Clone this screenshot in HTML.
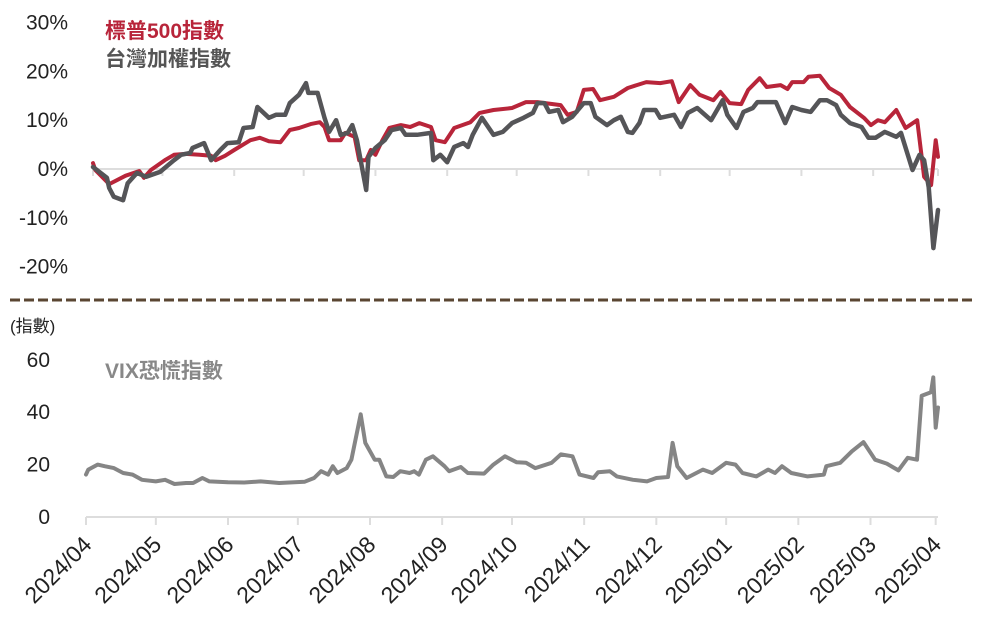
<!DOCTYPE html>
<html><head><meta charset="utf-8"><style>
body{margin:0;background:#fff}
svg{display:block;font-family:"Liberation Sans","Noto Sans CJK TC",sans-serif}
</style></head><body>
<svg id="c" width="985" height="628"></svg>
<script>
// Top panel data: days since 2024/04/01, % return
const spDays=[0,1,7,14,20,22,25,31,35,40,46,51,53,57,61,68,72,76,81,85,89,94,98,100,102,107,109,113,115,118,120,122,125,128,133,137,141,146,148,152,156,163,167,173,181,187,192,202,205,209,212,216,219,225,231,239,245,250,253,258,262,268,271,275,280,283,288,291,297,300,302,307,309,314,318,323,327,333,336,339,342,347,351,356,359,362,364,365];
const spVals=[1.2,-0.2,-3.1,-1.4,-0.4,-1.8,-0.2,1.8,2.9,3.1,2.9,2.7,1.8,2.7,3.9,5.9,6.4,5.7,5.5,8.0,8.4,9.2,9.6,8.6,5.9,5.9,7.4,6.6,1.8,1.8,3.9,2.9,5.9,8.4,9.0,8.6,9.4,8.6,5.9,5.5,8.4,9.6,11.5,12.1,12.5,13.7,13.7,13.1,11.1,11.7,16.2,16.4,14.1,14.8,16.6,17.8,17.6,18.0,13.7,17.2,15.2,14.1,15.8,13.5,13.3,16.2,18.6,16.8,17.2,16.4,17.8,17.8,18.9,19.1,16.6,15.2,12.7,10.5,9.0,10.0,9.6,12.1,8.4,10.0,-1.6,-3.3,5.9,2.5];
const twDays=[0,6,7,9,13,15,19,23,29,35,38,42,43,48,51,55,58,63,65,69,71,76,79,83,85,89,92,93,97,100,102,105,107,110,112,114,118,119,122,126,129,133,135,140,146,147,150,153,156,160,162,164,168,173,177,181,186,190,192,195,197,201,203,207,212,215,217,222,225,228,231,233,236,238,243,245,251,254,257,261,267,272,274,278,281,285,287,295,299,302,306,310,314,317,321,323,327,332,335,338,342,347,349,354,357,359,361,363,365];
const twVals=[0.4,-1.8,-3.9,-5.7,-6.4,-2.9,-0.8,-1.6,-0.6,1.8,2.9,3.3,4.3,5.3,1.8,3.9,5.3,5.5,8.4,8.6,12.7,10.5,11.1,11.1,13.5,15.2,17.6,15.6,15.6,10.5,7.6,10.0,7.0,7.4,9.0,5.9,-4.3,2.5,4.3,5.9,8.0,8.4,7.0,7.0,7.4,1.8,2.9,1.4,4.5,5.3,4.5,7.0,10.5,7.0,7.6,9.4,10.5,11.5,13.5,13.5,11.7,12.1,9.6,10.7,13.5,13.5,10.7,9.0,10.0,10.7,7.6,7.4,9.4,12.1,12.1,10.5,11.1,8.6,11.5,12.5,10.0,14.1,11.1,8.4,11.7,12.5,13.7,13.7,9.4,12.7,12.1,11.7,14.1,14.1,13.1,11.1,9.4,8.6,6.4,6.4,7.6,6.6,7.4,-0.2,2.9,1.8,-3.7,-16.2,-8.4];
const topTicks=["30%","20%","10%","0%","-10%","-20%"];
const topTickVals=[30,20,10,0,-10,-20];
// VIX data
const vixDays=[0,1,5,8,12,16,20,24,30,34,38,43,46,50,53,61,68,75,83,94,98,101,104,106,108,112,114,118,120,124,126,129,132,135,139,141,143,146,149,154,156,161,164,171,175,180,185,189,193,200,204,209,212,218,220,225,228,235,241,245,250,252,254,258,265,269,275,279,282,288,293,296,299,303,310,317,318,324,329,334,339,344,349,353,357,359,363,364,365,366];
const vixVals=[15.8,17.7,19.6,19,18.3,16.4,15.8,13.8,13.2,13.8,12.2,12.6,12.6,14.5,13.2,12.9,12.8,13.2,12.6,13.1,14.5,17.1,15.8,19,16.4,18.3,21.5,38.8,27.9,21.5,21.5,15.1,14.9,17.1,16.4,17.1,15.8,21.5,22.8,19,17.1,18.7,16.4,16.2,19.6,22.8,20.5,20.3,18.3,20.3,23.5,22.8,15.8,14.5,16.7,17.1,15.1,13.8,13.2,14.5,14.9,27.9,19,14.5,17.7,16.4,20.3,19.6,16.4,15.1,17.7,16.4,19,16.4,15.1,15.8,19,20.3,24.7,28.2,21.5,20,17.4,22.2,21.5,45.9,47.2,52.9,33.7,41.4];
const vixTicks=["60","40","20","0"];
const vixTickVals=[60,40,20,0];
const monthLabels=["2024/04","2024/05","2024/06","2024/07","2024/08","2024/09","2024/10","2024/11","2024/12","2025/01","2025/02","2025/03","2025/04"];
const monthDays=[0,30,61,91,122,153,183,214,245,275,306,337,365];

const NS="http://www.w3.org/2000/svg";
const svg=document.getElementById('c');
function mk(tag,attrs,name,parent){const e=document.createElementNS(NS,tag);for(const k in attrs)e.setAttribute(k,attrs[k]);


(parent||svg).appendChild(e);return e;}
const xTop=d=>93+d*(845/365);
const yTop=v=>169-v*4.88;
const xBot=d=>86+d*(852/366);
const yBot=v=>516-v*2.62;

mk('line',{x1:93,x2:938,y1:169,y2:169,stroke:'#ddd','stroke-width':2},'top-zero-line');
monthDays.forEach(d=>{mk('line',{x1:xTop(d),x2:xTop(d),y1:169,y2:176,stroke:'#ddd','stroke-width':2},'top-x-tick');});
topTickVals.forEach((v,i)=>{const t=mk('text',{x:68,y:yTop(v)+7,'text-anchor':'end','font-size':21,fill:'#222'},'top-y-tick-label');t.textContent=topTicks[i];});
function path(days,vals,xf,yf,color,w,name){let d='';days.forEach((dd,i)=>{d+=(i?'L':'M')+xf(dd).toFixed(1)+' '+yf(vals[i]).toFixed(1);});
mk('path',{d:d,fill:'none',stroke:color,'stroke-width':w,'stroke-linejoin':'round','stroke-linecap':'round'},name);}
path(spDays,spVals,xTop,yTop,'#b8253a',4,'sp500-line');
path(twDays,twVals,xTop,yTop,'#555558',4.5,'taiex-line');
let t=mk('text',{x:105,y:38,'font-size':21,'font-weight':'bold',fill:'#b8253a'},'legend-sp500');t.textContent='標普500指數';
t=mk('text',{x:105,y:66,'font-size':21,'font-weight':'bold',fill:'#555'},'legend-taiex');t.textContent='台灣加權指數';

mk('line',{x1:10,x2:975,y1:300,y2:300,stroke:'#5a4632','stroke-width':3,'stroke-dasharray':'10 4'},'panel-divider');

t=mk('text',{x:10,y:332,'font-size':17,fill:'#222'},'vix-y-axis-unit');t.textContent='(指數)';
mk('line',{x1:86,x2:938,y1:517,y2:517,stroke:'#ddd','stroke-width':2},'vix-x-axis');
vixTickVals.forEach((v,i)=>{const e=mk('text',{x:50,y:yBot(v)+8,'text-anchor':'end','font-size':21,fill:'#222'},'vix-y-tick-label');e.textContent=vixTicks[i];});
monthDays.forEach((d,i)=>{const x=xBot(d);mk('line',{x1:x,x2:x,y1:517,y2:525,stroke:'#ddd','stroke-width':2},'vix-x-tick');
const e=mk('text',{x:x+7,y:546,'text-anchor':'end','font-size':23,fill:'#222',transform:`rotate(-45 ${x+7} 546)`},'x-tick-label');e.textContent=monthLabels[i];});
path(vixDays,vixVals,xBot,yBot,'#858585',4,'vix-line');
t=mk('text',{x:105,y:378,'font-size':21,'font-weight':'bold',fill:'#888'},'legend-vix');t.textContent='VIX恐慌指數';
</script>
</body></html>
